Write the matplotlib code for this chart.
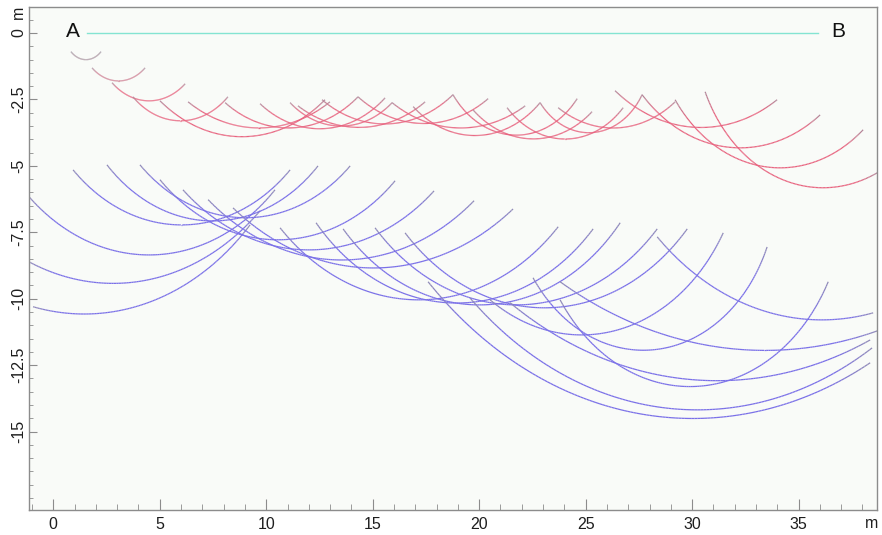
import numpy as np
import matplotlib.pyplot as plt
from matplotlib.collections import LineCollection
from matplotlib.colors import to_rgb
from matplotlib.ticker import MultipleLocator

plt.rcParams['font.family'] = ['Liberation Sans', 'DejaVu Sans']

# wavefront arcs: (x_left, z_left, x_mid, z_mid, x_right, z_right) in metres
red_arcs = [
    (0.83, -0.70, 1.49, -1.00, 2.24, -0.70),
    (1.82, -1.31, 2.99, -1.80, 4.31, -1.31),
    (2.76, -1.87, 4.45, -2.55, 6.19, -1.91),
    (3.74, -2.40, 6.05, -3.30, 8.20, -2.40),
    (5.01, -2.55, 8.91, -3.90, 12.76, -2.51),
    (6.33, -2.59, 9.61, -3.57, 12.99, -2.59),
    (8.07, -2.62, 11.12, -3.57, 14.31, -2.40),
    (9.71, -2.66, 12.62, -3.60, 15.58, -2.44),
    (11.12, -2.62, 13.47, -3.50, 15.91, -2.62),
    (11.49, -2.74, 14.41, -3.55, 17.46, -2.59),
    (12.62, -2.51, 15.58, -3.42, 18.77, -2.32),
    (14.31, -2.40, 17.22, -3.40, 20.42, -2.47),
    (15.91, -2.62, 18.63, -3.55, 22.16, -2.74),
    (16.90, -2.77, 20.04, -3.85, 22.86, -2.62),
    (18.77, -2.32, 21.45, -3.83, 24.60, -2.47),
    (19.71, -2.89, 22.39, -3.98, 25.30, -2.96),
    (21.31, -2.81, 23.80, -3.98, 26.76, -2.81),
    (22.86, -2.62, 25.21, -3.75, 27.65, -2.32),
    (23.71, -2.81, 26.15, -3.57, 29.20, -2.59),
    (26.38, -2.17, 30.98, -3.53, 33.99, -2.51),
    (27.65, -2.32, 32.96, -4.28, 36.01, -3.08),
    (29.20, -2.51, 34.84, -5.03, 38.03, -3.64),
    (30.61, -2.21, 36.01, -5.82, 38.69, -5.26),
]
# the first two shallow arcs are drawn in a muted tone
red_tones = ['#a8909e', '#cf7d92'] + ['#e8627e'] * (len(red_arcs) - 2)

blue_arcs = [
    (-1.14, -6.16, 4.54, -8.35, 10.41, -5.90),
    (-1.14, -8.61, 3.46, -9.40, 9.71, -6.69),
    (-0.95, -10.30, 1.72, -10.57, 9.24, -7.22),
    (0.93, -5.15, 5.95, -7.22, 11.12, -5.15),
    (2.52, -4.96, 7.45, -7.07, 12.43, -5.00),
    (4.07, -4.96, 9.00, -6.95, 13.94, -5.00),
    (5.01, -5.52, 10.51, -7.78, 16.05, -5.56),
    (6.09, -5.90, 11.96, -8.16, 17.88, -5.94),
    (7.27, -6.27, 13.51, -8.54, 19.76, -6.31),
    (8.44, -6.58, 15.02, -8.84, 21.59, -6.62),
    (10.65, -7.33, 17.18, -10.04, 23.71, -7.29),
    (12.34, -7.14, 18.87, -10.16, 25.35, -7.37),
    (13.61, -7.37, 20.09, -10.23, 26.62, -7.14),
    (15.11, -7.33, 21.73, -10.23, 28.36, -7.37),
    (16.52, -7.52, 23.14, -10.34, 29.77, -7.37),
    (17.60, -9.36, 28.64, -14.45, 38.36, -12.41),
    (19.57, -9.97, 30.38, -14.18, 38.45, -11.85),
    (21.45, -10.15, 32.25, -13.05, 38.36, -11.55),
    (23.80, -9.36, 34.13, -11.93, 38.69, -11.21),
    (28.36, -7.67, 35.78, -10.79, 38.50, -10.53),
    (20.51, -10.04, 24.74, -11.36, 31.46, -7.52),
    (22.53, -9.21, 26.15, -11.74, 33.52, -8.05),
    (23.80, -10.04, 28.50, -13.17, 36.39, -9.36),
]

surface_x = [1.57, 35.9]
surface_z = [0.0, 0.0]

BLUE = '#7a70e8'
FADE = '#9a96a4'
GRID = '#8c8c8c'


def arc_points(x0, y0, xm, ym, x1, y1, n=150):
    # circle through three points, walked from the left end to the right end
    d = 2 * (x0 * (ym - y1) + xm * (y1 - y0) + x1 * (y0 - ym))
    s0, sm, s1 = x0**2 + y0**2, xm**2 + ym**2, x1**2 + y1**2
    ux = (s0 * (ym - y1) + sm * (y1 - y0) + s1 * (y0 - ym)) / d
    uy = (s0 * (x1 - xm) + sm * (x0 - x1) + s1 * (xm - x0)) / d
    r = np.hypot(x0 - ux, y0 - uy)
    a0 = np.arctan2(y0 - uy, x0 - ux)
    am = np.arctan2(ym - uy, xm - ux)
    a1 = np.arctan2(y1 - uy, x1 - ux)
    span = (a1 - a0) % (2 * np.pi)
    if (am - a0) % (2 * np.pi) > span:
        span = span - 2 * np.pi
    t = a0 + np.linspace(0, span, n)
    return ux + r * np.cos(t), uy + r * np.sin(t)


def draw_arc(ax, arc, color, fade_len=0.1, fade_amt=0.7):
    # arc tips fade to grey
    xs, ys = arc_points(*arc)
    pts = np.column_stack([xs, ys])
    segs = np.stack([pts[:-1], pts[1:]], axis=1)
    s = np.linspace(0, 1, len(segs))
    w = np.clip(1 - np.minimum(s, 1 - s) / fade_len, 0, 1) * fade_amt
    c0, c1 = np.array(to_rgb(color)), np.array(to_rgb(FADE))
    cols = (1 - w)[:, None] * c0 + w[:, None] * c1
    ax.add_collection(LineCollection(segs, colors=cols, linewidths=0.9,
                                     capstyle='butt', joinstyle='round'))


fig = plt.figure(figsize=(8.82, 5.35), dpi=100)
ax = fig.add_axes([0.0329, 0.0467, 0.9614, 0.9402])
ax.set_facecolor('#f9fbf8')

ax.plot(surface_x, surface_z, color='#84e4d2', lw=1.0)

for arc, tone in zip(red_arcs, red_tones):
    draw_arc(ax, arc, tone)
for arc in blue_arcs:
    draw_arc(ax, arc, BLUE)

ax.set_xlim(-1.14, 38.68)
ax.set_ylim(-17.95, 0.98)

ax.xaxis.set_minor_locator(MultipleLocator(1))
ax.yaxis.set_minor_locator(MultipleLocator(0.5))
ax.set_xticks([0, 5, 10, 15, 20, 25, 30, 35])
ax.set_xticklabels(['0', '5', '10', '15', '20', '25', '30', '35'])
ax.set_yticks([0, -2.5, -5, -7.5, -10, -12.5, -15])
ax.set_yticklabels(['0', '-2.5', '-5', '-7.5', '-10', '-12.5', '-15'],
                   rotation=90, va='center')

ax.tick_params(which='both', direction='in', color=GRID, labelsize=11.5,
               labelcolor='#1e1e1e')
ax.tick_params(axis='x', which='major', length=8, pad=5)
ax.tick_params(axis='x', which='minor', length=4)
ax.tick_params(axis='y', which='major', length=6, pad=2)
ax.tick_params(axis='y', which='minor', length=3)
for sp in ax.spines.values():
    sp.set_color(GRID)
    sp.set_linewidth(1.0)

ax.text(0.93, 0.05, 'A', fontsize=15, ha='center', va='center', color='#111111')
ax.text(36.86, 0.05, 'B', fontsize=15, ha='center', va='center', color='#111111')
fig.text(18 / 882, 1 - 12 / 535, 'm', rotation=90, fontsize=11.5,
         ha='center', va='center', color='#1e1e1e')
fig.text(872 / 882, 1 - 523 / 535, 'm', fontsize=11.5,
         ha='center', va='center', color='#1e1e1e')

fig.savefig('out.png', dpi=100)
